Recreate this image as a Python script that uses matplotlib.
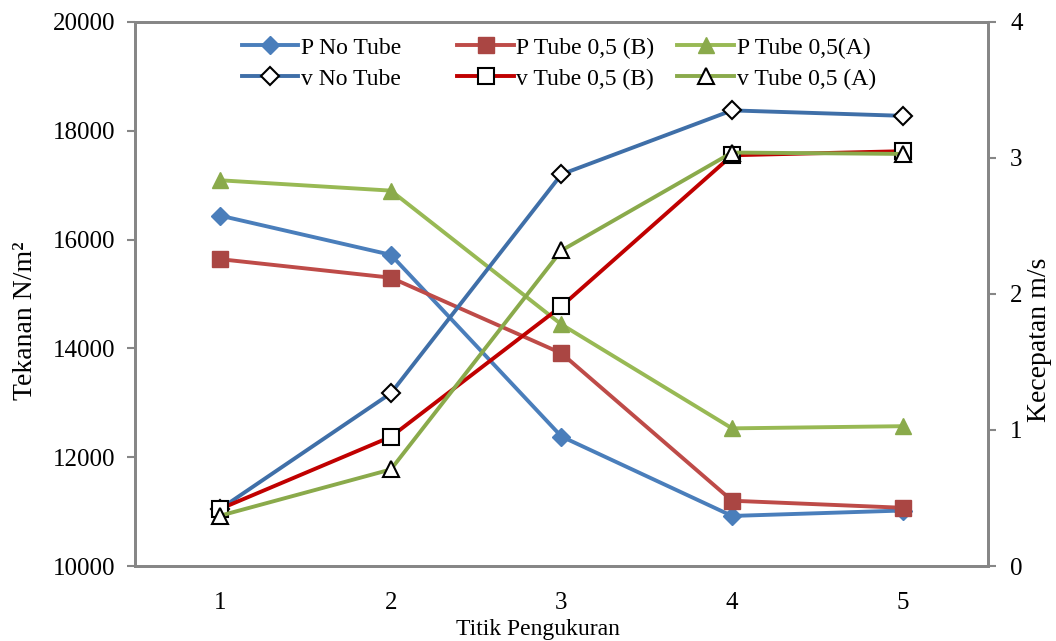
import matplotlib
matplotlib.use('Agg')
import matplotlib.pyplot as plt

titik = [1, 2, 3, 4, 5]

p_no_tube = [16440, 15720, 12380, 10920, 11020]
p_tube_b = [15640, 15300, 13910, 11200, 11070]
p_tube_a = [17090, 16900, 14440, 12530, 12570]

v_no_tube = [0.42, 1.27, 2.88, 3.35, 3.31]
v_tube_b = [0.42, 0.95, 1.91, 3.02, 3.05]
v_tube_a = [0.37, 0.71, 2.32, 3.04, 3.03]

plt.rcParams['font.family'] = ['Liberation Serif', 'DejaVu Serif']
grey = '#868686'

fig = plt.figure(figsize=(10.56, 6.41), dpi=100)
ax1 = fig.add_axes([0.1278, 0.117, 0.8078, 0.8487])
ax2 = ax1.twinx()

lw = 2.8
h1, = ax1.plot(titik, p_no_tube, '-', color='#4A7EBB', lw=lw, marker='D', ms=9,
               mfc='#4A7EBB', mec='#4A7EBB', label='P No Tube')
h2, = ax1.plot(titik, p_tube_b, '-', color='#BE4B48', lw=lw, marker='s', ms=11,
               mfc='#AA4643', mec='#AA4643', label='P Tube 0,5 (B)')
h3, = ax1.plot(titik, p_tube_a, '-', color='#98B954', lw=lw, marker='^', ms=11,
               mfc='#8AAA4B', mec='#8AAA4B', label='P Tube 0,5(A)')

h4, = ax2.plot(titik, v_no_tube, '-', color='#3F6FA8', lw=lw, marker='D', ms=9,
               mfc='white', mec='black', mew=1.5, label='v No Tube')
h5, = ax2.plot(titik, v_tube_b, '-', color='#C00000', lw=lw, marker='s', ms=12,
               mfc='white', mec='black', mew=1.5, label='v Tube 0,5 (B)')
h6, = ax2.plot(titik, v_tube_a, '-', color='#8AAA4B', lw=lw, marker='^', ms=12,
               mfc='white', mec='black', mew=1.5, label='v Tube 0,5 (A)')

ax1.set_xlim(0.5, 5.5)
ax1.set_ylim(10000, 20000)
ax1.set_yticks([10000, 12000, 14000, 16000, 18000, 20000])
ax2.set_ylim(0, 4)
ax2.set_yticks([0, 1, 2, 3, 4])
ax1.set_xticks(titik)

for ax in (ax1, ax2):
    for s in ax.spines.values():
        s.set_color(grey)
        s.set_linewidth(2)
ax1.tick_params(axis='y', direction='out', length=6, width=1.5, color=grey,
                labelsize=18, pad=8)
ax1.tick_params(axis='x', length=0, labelsize=18, pad=19)
ax2.tick_params(axis='y', direction='out', length=6, width=1.5, color=grey,
                labelsize=18, pad=10)

# axis titles placed like the Excel original
fig.text(0.024, 0.50, 'Tekanan N/m²', rotation=90, ha='center', va='center',
         fontsize=20)
fig.text(0.984, 0.47, 'Kecepatan m/s', rotation=90, ha='center', va='center',
         fontsize=20)
ax1.set_xlabel('Titik Pengukuran', fontsize=17)
ax1.xaxis.set_label_coords(0.472, -0.097)

# one legend per column, like the Excel layout
cols = [([h1, h4], 0.125), ([h2, h5], 0.378), ([h3, h6], 0.636)]
for i, (hs, xpos) in enumerate(cols):
    leg = ax2.legend(handles=hs, loc='upper left', bbox_to_anchor=(xpos, 0.972),
                     frameon=False, fontsize=17, handlelength=2.4,
                     labelspacing=0.4, handletextpad=0.1, borderaxespad=0,
                     borderpad=0)
    if i < len(cols) - 1:
        ax2.add_artist(leg)

plt.savefig('out.png', dpi=100)
